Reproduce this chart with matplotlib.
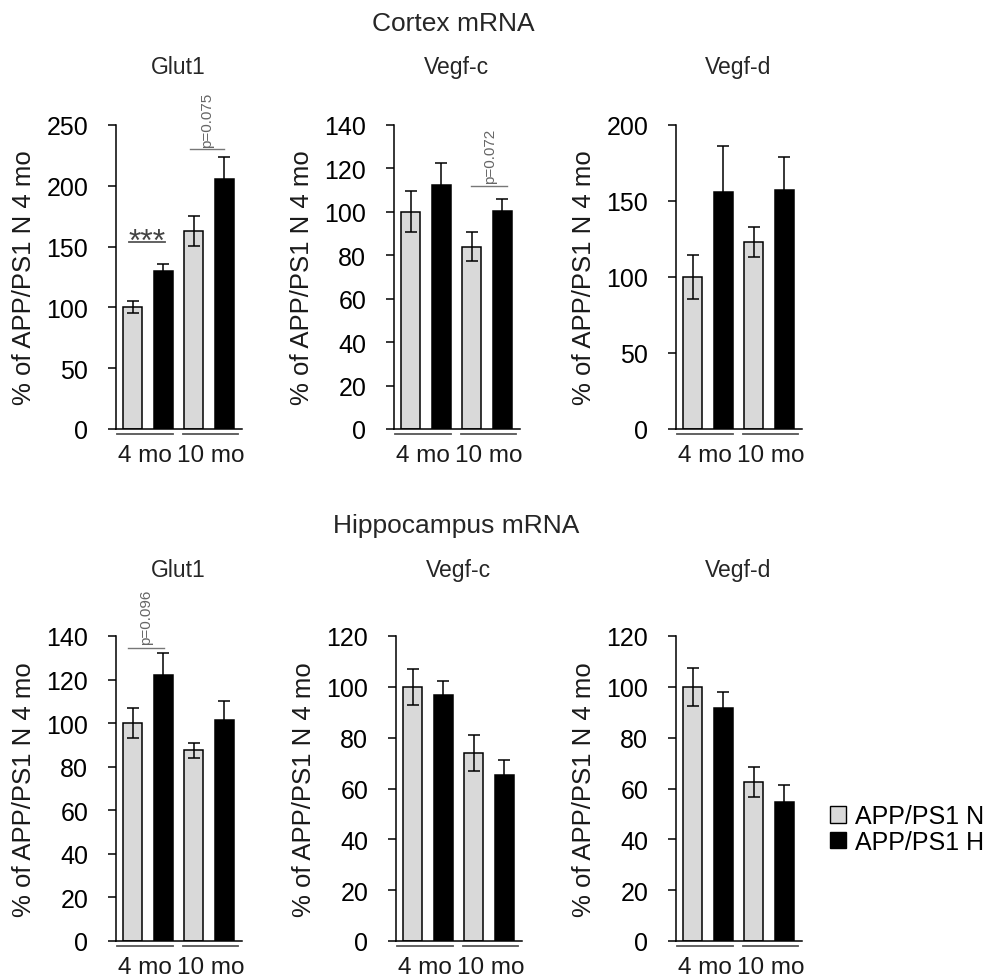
import numpy as np
import matplotlib.pyplot as plt
import matplotlib.transforms as mtrans
from matplotlib.patches import Patch

plt.rcParams['font.family'] = ['Liberation Sans', 'DejaVu Sans']

# groups / series
groups = ['4 mo', '10 mo']
series = ['APP/PS1 N', 'APP/PS1 H']

# cortex mRNA (% of APP/PS1 N 4 mo)
cx_glut1_n, cx_glut1_n_err = [100, 163], [5, 12.5]
cx_glut1_h, cx_glut1_h_err = [130, 206], [6, 17.5]
cx_vegfc_n, cx_vegfc_n_err = [100, 84], [9.5, 6.5]
cx_vegfc_h, cx_vegfc_h_err = [112.5, 100.5], [10, 5.5]
cx_vegfd_n, cx_vegfd_n_err = [100, 123], [14.5, 10]
cx_vegfd_h, cx_vegfd_h_err = [156, 157], [30, 22]

# hippocampus mRNA
hc_glut1_n, hc_glut1_n_err = [100, 87.5], [7, 3.5]
hc_glut1_h, hc_glut1_h_err = [122, 101.3], [10, 9]
hc_vegfc_n, hc_vegfc_n_err = [100, 74], [7, 7]
hc_vegfc_h, hc_vegfc_h_err = [96.6, 65.2], [5.7, 6.2]
hc_vegfd_n, hc_vegfd_n_err = [100, 62.5], [7.6, 6]
hc_vegfd_h, hc_vegfd_h_err = [91.7, 54.5], [6.2, 6.8]

genes = ['Glut1', 'Vegf-c', 'Vegf-d']
cx_ymax, cx_ystep = [250, 140, 200], [50, 20, 50]
hc_ymax, hc_ystep = [140, 120, 120], [20, 20, 20]

W, H = 991, 979
fig = plt.figure(figsize=(W / 100, H / 100), dpi=100)

GREY = '#d9d9d9'
TXT = '#1a1a1a'
x_n = np.array([0, 2])
x_h = np.array([1, 3])


def add_ax(left, top, bottom, width=126):
    return fig.add_axes([left / W, 1 - bottom / H, width / W, (bottom - top) / H])


def draw_panel(ax, n, n_err, h, h_err, ymax, ystep):
    ax.bar(x_n, n, width=0.62, color=GREY, edgecolor='black', linewidth=1.1, zorder=2)
    ax.bar(x_h, h, width=0.62, color='black', edgecolor='black', linewidth=1.1, zorder=2)
    for xs, v, e in [(x_n, n, n_err), (x_h, h, h_err)]:
        ax.errorbar(xs, v, yerr=e, fmt='none', ecolor='black', elinewidth=1.1,
                    capsize=4, capthick=1.1, zorder=3, clip_on=False)
    ax.set_xlim(-0.55, 3.58)
    ax.set_ylim(0, ymax)
    ax.set_yticks(np.arange(0, ymax + 1, ystep))
    ax.set_xticks([])
    for s in ['top', 'right']:
        ax.spines[s].set_visible(False)
    for s in ['left', 'bottom']:
        ax.spines[s].set_linewidth(1.1)
    ax.tick_params(axis='y', length=6, width=1.1, labelsize=18, pad=14, colors='black')
    ax.set_ylabel('% of APP/PS1 N 4 mo', fontsize=18.5, color=TXT, va='center')
    ax.yaxis.set_label_coords(-0.73, 0.5)
    # group brackets under the axis
    tr = mtrans.blended_transform_factory(ax.transData, ax.transAxes)
    for (x0, x1), lab in zip([(-0.51, 1.33), (1.66, 3.46)], groups):
        ax.plot([x0, x1], [-0.015, -0.015], color='#555555', lw=1.3,
                transform=tr, clip_on=False)
        ax.text((x0 + x1) / 2, -0.105, lab, transform=tr, ha='center',
                va='baseline', fontsize=17.5, color=TXT)


def p_note(ax, x0, x1, y, xt, yt, label):
    ax.plot([x0, x1], [y, y], color='#777777', lw=1.0, clip_on=False)
    ax.text(xt, yt, label, rotation=90, ha='center', va='bottom',
            fontsize=11, color='#666666', clip_on=False)


cx_data = [(cx_glut1_n, cx_glut1_n_err, cx_glut1_h, cx_glut1_h_err),
           (cx_vegfc_n, cx_vegfc_n_err, cx_vegfc_h, cx_vegfc_h_err),
           (cx_vegfd_n, cx_vegfd_n_err, cx_vegfd_h, cx_vegfd_h_err)]
hc_data = [(hc_glut1_n, hc_glut1_n_err, hc_glut1_h, hc_glut1_h_err),
           (hc_vegfc_n, hc_vegfc_n_err, hc_vegfc_h, hc_vegfc_h_err),
           (hc_vegfd_n, hc_vegfd_n_err, hc_vegfd_h, hc_vegfd_h_err)]

top_left = [116, 394, 676]
bot_left = [116, 396, 676]
axes_top, axes_bot = [], []
for i in range(3):
    ax = add_ax(top_left[i], 126, 430)
    draw_panel(ax, *cx_data[i], cx_ymax[i], cx_ystep[i])
    axes_top.append(ax)
    fig.text((top_left[i] + 62) / W, 1 - 74 / H, genes[i], ha='center',
             va='baseline', fontsize=16.5, color='#262626')
    ax = add_ax(bot_left[i], 637, 942)
    draw_panel(ax, *hc_data[i], hc_ymax[i], hc_ystep[i])
    axes_bot.append(ax)
    fig.text((bot_left[i] + 62) / W, 1 - 577 / H, genes[i], ha='center',
             va='baseline', fontsize=16.5, color='#262626')

# significance marks
ax = axes_top[0]
ax.plot([-0.11, 1.07], [154, 154], color='#555555', lw=1.3)
ax.text(0.48, 147.5, '***', ha='center', va='baseline', fontsize=23, color='#444444')
p_note(ax, 1.88, 3.0, 230, 2.44, 232, 'p=0.075')
p_note(axes_top[1], 1.97, 3.15, 111.7, 2.59, 113.5, 'p=0.072')
p_note(axes_bot[0], -0.15, 1.03, 134.7, 0.44, 136.5, 'p=0.096')

fig.text(453 / W, 1 - 31 / H, 'Cortex mRNA', ha='center', va='baseline',
         fontsize=19, color='#262626')
fig.text(456 / W, 1 - 533 / H, 'Hippocampus mRNA', ha='center', va='baseline',
         fontsize=19, color='#262626')

handles = [Patch(facecolor=GREY, edgecolor='black', linewidth=1.0),
           Patch(facecolor='black', edgecolor='black', linewidth=1.0)]
fig.legend(handles, series, loc='center left', bbox_to_anchor=(830 / W, 1 - 830 / H),
           frameon=False, fontsize=18, handlelength=0.65, handleheight=0.65,
           handletextpad=0.35, labelspacing=0.05, borderpad=0, borderaxespad=0)

fig.savefig('out.png', dpi=100)
